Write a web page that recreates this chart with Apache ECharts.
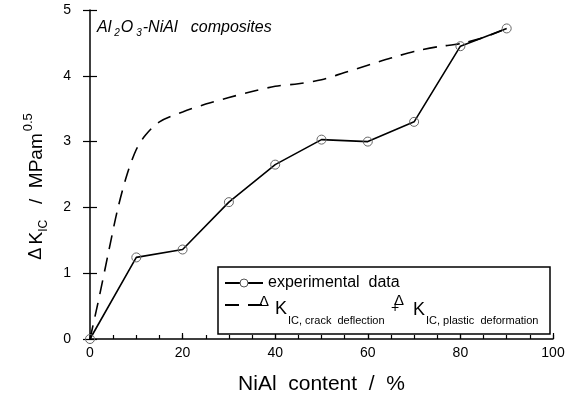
<!DOCTYPE html>
<html>
<head>
<meta charset="utf-8">
<script src="https://cdn.jsdelivr.net/npm/echarts@6/dist/echarts.min.js"></script>
<style>html,body{margin:0;padding:0;background:#fff;}#c{width:576px;height:395px;}</style>
</head>
<body>
<div id="c"></div>
<script>
// Data
var expX = [0, 10, 20, 30, 40, 50, 60, 70, 80, 90];
var expY = [0, 1.24, 1.36, 2.08, 2.65, 3.03, 3.0, 3.3, 4.45, 4.72];
var modelX = [0, 2, 4, 6, 8, 10, 12, 15, 20, 25, 30, 35, 40, 45, 50, 55, 60, 65, 70, 75, 80, 85, 90];
var modelY = [0, 0.64, 1.32, 1.98, 2.5, 2.88, 3.1, 3.3, 3.45, 3.57, 3.67, 3.76, 3.84, 3.88, 3.94, 4.05, 4.16, 4.27, 4.37, 4.44, 4.49, 4.58, 4.72];
var xTickLabels = ['0', '20', '40', '60', '80', '100'];
var yTickLabels = ['0', '1', '2', '3', '4', '5'];

function pairs(xs, ys) { return xs.map(function (x, i) { return [x, ys[i]]; }); }

var FONT = '"Liberation Sans", Arial, Helvetica, sans-serif';
var chart = echarts.init(document.getElementById('c'), null, { renderer: 'canvas' });

function txt(x, y, text, size, extra) {
  var st = {
    text: text, x: 0, y: 0, fill: '#000',
    font: (extra && extra.italic ? 'italic ' : '') + size + 'px ' + FONT,
    fontSize: size, fontFamily: FONT,
    align: 'left', verticalAlign: 'middle', textAlign: 'left', textVerticalAlign: 'middle'
  };
  return { type: 'text', x: x, y: y, z: 100, style: st };
}

var option = {
  backgroundColor: '#fff',
  animation: false,
  textStyle: { fontFamily: FONT, color: '#000' },
  grid: { left: 90, right: 23, top: 10, bottom: 56, containLabel: false, outerBoundsMode: 'none' },
  xAxis: [{
    type: 'value', min: 0, max: 100, interval: 5, position: 'bottom',
    axisLine: { show: true, lineStyle: { color: '#000', width: 1.5 } },
    axisTick: { show: true, inside: true, length: 4, lineStyle: { color: '#000', width: 1.2 } },
    splitLine: { show: false },
    axisLabel: {
      margin: 7, fontSize: 14, color: '#000', fontFamily: FONT,
      formatter: function (v) { var i = xTickLabels.indexOf(String(v)); return i >= 0 ? xTickLabels[i] : ''; }
    },
    name: 'NiAl  content  /  %', nameLocation: 'middle', nameGap: 35,
    nameTextStyle: { fontSize: 21, color: '#000', fontFamily: FONT }
  }, {
    type: 'value', min: 0, max: 100, interval: 20, position: 'bottom',
    axisLine: { show: false },
    axisTick: { show: true, inside: true, length: 6, lineStyle: { color: '#000', width: 1.2 } },
    splitLine: { show: false }, axisLabel: { show: false }
  }],
  yAxis: [{
    type: 'value', min: 0, max: 5, interval: 1, position: 'left',
    axisLine: { show: true, lineStyle: { color: '#000', width: 1.5 } },
    axisTick: { show: true, inside: true, length: 7, lineStyle: { color: '#000', width: 1.2 } },
    splitLine: { show: false },
    axisLabel: {
      margin: 19, fontSize: 14, color: '#000', fontFamily: FONT,
      formatter: function (v) { return yTickLabels[Math.round(v)]; }
    },
    name: '{d|Δ} {k|K}{s|IC}{k|   /  MPam}{p|0.5}', nameLocation: 'middle', nameGap: 39, nameRotate: 90,
    nameTextStyle: {
      color: '#000', fontFamily: FONT,
      rich: {
        d: { fontSize: 18, fontFamily: FONT, color: '#000' },
        k: { fontSize: 19, fontFamily: FONT, color: '#000' },
        s: { fontSize: 12, fontFamily: FONT, color: '#000', padding: [14, 0, 0, 0] },
        p: { fontSize: 13, fontFamily: FONT, color: '#000', padding: [0, 24, 16, 2] }
      }
    }
  }, {
    type: 'value', min: 0, max: 5, interval: 1, position: 'left',
    axisLine: { show: false },
    axisTick: { show: true, inside: false, length: 7, lineStyle: { color: '#000', width: 1.2 } },
    splitLine: { show: false }, axisLabel: { show: false }
  }],
  legend: {
    orient: 'vertical', left: 218, top: 267,
    backgroundColor: '#fff', borderColor: '#000', borderWidth: 1.5, borderRadius: 0,
    padding: [7, 10, 16, 6], itemGap: 0, itemWidth: 38, itemHeight: 10,
    data: [
      { name: 'experimental', itemStyle: { color: '#fff', borderColor: '#555', borderWidth: 1 } },
      { name: 'model', itemStyle: { opacity: 0 } }
    ],
    formatter: function (name) {
      if (name === 'experimental') return '{t|experimental  data}';
      return '{e|}';
    },
    textStyle: {
      fontFamily: FONT, color: '#000',
      rich: {
        t: { fontSize: 16, fontFamily: FONT, color: '#000', height: 18, lineHeight: 18 },
        e: { fontSize: 11, fontFamily: FONT, color: '#000', width: 272, height: 26, lineHeight: 26 }
      }
    }
  },
  series: [{
    name: 'experimental', type: 'line', xAxisIndex: 0, yAxisIndex: 0,
    data: pairs(expX, expY),
    symbol: 'circle', symbolSize: 9, showSymbol: true,
    lineStyle: { color: '#000', width: 1.6 },
    itemStyle: { color: 'rgba(255,255,255,0)', borderColor: '#666', borderWidth: 1 },
    z: 3
  }, {
    name: 'model', type: 'line', xAxisIndex: 0, yAxisIndex: 0,
    data: pairs(modelX, modelY), smooth: 0.3,
    symbol: 'none',
    lineStyle: { color: '#000', width: 1.6, type: [14, 9] },
    itemStyle: { color: '#000' },
    z: 2
  }],
  graphic: [{
    type: 'text', left: 97, top: 20,
    style: {
      text: '{a|Al}{s|2}{a|O}{s|3}{a|-NiAl   composites}',
      fontFamily: FONT, fill: '#000',
      rich: {
        a: { fontSize: 16, fontStyle: 'italic', fontFamily: FONT, fill: '#000' },
        s: { fontSize: 10, fontStyle: 'italic', fontFamily: FONT, fill: '#000', padding: [10, 1, 0, 3] }
      }
    }
  },
    // second legend entry text: ΔK_IC, crack deflection + ΔK_IC, plastic deformation
    txt(259, 302, 'Δ', 15),
    txt(275, 309, 'K', 18),
    txt(288, 321, 'IC, crack  deflection', 11),
    txt(391, 308, '+', 14),
    txt(394, 301, 'Δ', 15),
    txt(413, 310, 'K', 18),
    txt(426, 321, 'IC, plastic  deformation', 11)
  ]
};
chart.setOption(option);
</script>
</body>
</html>
